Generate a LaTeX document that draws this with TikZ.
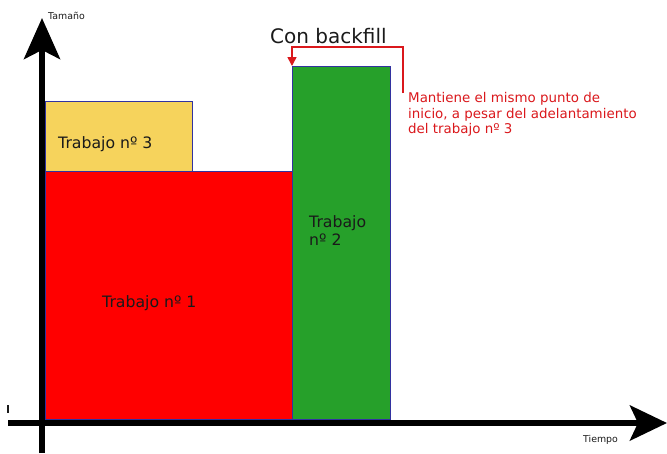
\documentclass[tikz,border=0pt]{standalone}
\usepackage{fontspec}
\setmainfont{DejaVu Sans}
\usetikzlibrary{arrows.meta}
\definecolor{jobyellow}{RGB}{246,211,92}
\definecolor{jobred}{RGB}{255,0,0}
\definecolor{jobgreen}{RGB}{38,160,42}
\definecolor{boxedge}{RGB}{50,50,160}
\definecolor{notered}{RGB}{218,24,28}
\definecolor{labeltext}{RGB}{26,26,26}
\tikzset{
  jobbox/.style={draw=boxedge, line width=0.8pt, anchor=north west, inner sep=0pt, outer sep=0pt},
  joblabel/.style={text=labeltext, inner sep=0pt, anchor=base west, align=left,
    font=\fontsize{15.7}{18}\selectfont},
  axislabel/.style={text=labeltext, inner sep=0pt, anchor=base west, font=\fontsize{9.4}{11}\selectfont},
  axisline/.style={line width=6pt, black},
  notetext/.style={text=notered, inner sep=0pt, anchor=base west, align=left,
    font=\fontsize{13.4}{15.3}\selectfont},
  noteline/.style={notered, line width=1.6pt, -{Triangle[length=9pt,width=9pt]}},
}
\begin{document}
\begin{tikzpicture}[x=1pt,y=-1pt]
\useasboundingbox (0,0) rectangle (667,453);
% job boxes
\node[jobbox, fill=jobred, minimum width=247pt, minimum height=248pt] (job1) at (45,171) {};
\node[jobbox, fill=jobyellow, minimum width=147pt, minimum height=70pt] (job3) at (45,101) {};
\node[jobbox, fill=jobgreen, minimum width=98pt, minimum height=353pt] (job2) at (292,66) {};
% labels
\node[joblabel] (l3) at (58,148) {Trabajo nº 3};
\node[joblabel] (l1) at (102,307) {Trabajo nº 1};
\node[joblabel] (l2) at (309,245) {Trabajo\\nº 2};
% axes
\coordinate (ybot) at (42,453);
\coordinate (ytop) at (42,18);
\coordinate (xleft) at (8,423);
\coordinate (xright) at (667,423);
\draw[axisline, -{Stealth[length=41pt,width=36pt,inset=9pt]}] (ybot) -- (ytop);
\draw[axisline, -{Stealth[length=37pt,width=35pt,inset=8pt]}] (xleft) -- (xright);
\coordinate (tick1) at (8,405);
\coordinate (tick2) at (8,413);
\draw[line width=1.2pt, labeltext] (tick1) -- (tick2);
\node[axislabel] (tam) at (48,19) {Tamaño};
\node[axislabel] (tie) at (583,442) {Tiempo};
% title and note
\node[inner sep=0pt, anchor=base west, text=labeltext, font=\fontsize{20}{24}\selectfont] (title) at (270,43) {Con backfill};
\node[notetext] (note) at (408,133.3) {Mantiene el mismo punto de\\inicio, a pesar del adelantamiento\\del trabajo nº 3};
\coordinate (c1) at (403,93);
\coordinate (c2) at (292,47);
\draw[noteline] (c1) |- (c2) -- (job2.north west);
\end{tikzpicture}
\end{document}
